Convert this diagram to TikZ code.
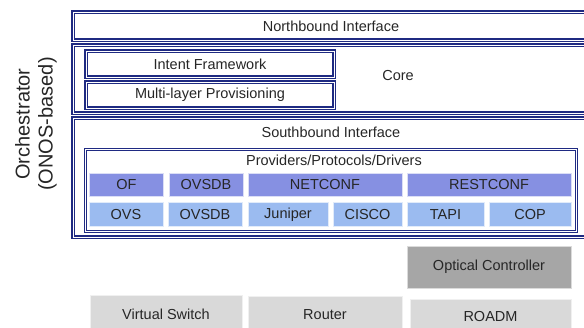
\documentclass[tikz,border=0pt]{standalone}
\usepackage{fontspec}
\setmainfont{Liberation Sans}
\definecolor{navy}{RGB}{31,42,130}
\definecolor{protoblue}{RGB}{134,144,226}
\definecolor{drvblue}{RGB}{155,187,240}
\definecolor{devgray}{RGB}{217,217,217}
\definecolor{ctrlgray}{RGB}{166,166,166}
\begin{document}
\begin{tikzpicture}[x=1pt, y=-1pt, font=\fontsize{14.5}{17}\selectfont, text=black!85,
    layer/.style = {draw=navy, double=white, double distance=0.6pt, line width=1.25pt, inner sep=0pt},
    proto/.style = {fill=protoblue, draw=white!70!protoblue, line width=0.6pt, minimum height=23pt, inner sep=0pt},
    driver/.style = {fill=drvblue, draw=white!70!drvblue, line width=0.6pt, minimum height=24pt, inner sep=0pt},
    device/.style = {fill=devgray, draw=white!60!devgray, line width=0.6pt, inner sep=0pt}]
  \useasboundingbox (0,0) rectangle (584,327);
  \clip (0,0) rectangle (584,327);
  % orchestrator layers
  \node[layer, minimum width=516pt, minimum height=28pt] (north) at (331,26) {Northbound Interface};
  \node[layer, minimum width=516pt, minimum height=68pt] (core) at (331,79) {};
  \node (coretext) at (398,76) {Core};
  \node[layer, minimum width=248pt, minimum height=26pt] (intent) at (210,64) {Intent Framework};
  \node[layer, minimum width=248pt, minimum height=26pt] (multi) at (210,95) {Multi-layer Provisioning};
  \node[layer, minimum width=516pt, minimum height=119pt] (south) at (331,177.5) {};
  \node (southtext) at (331,132) {Southbound Interface};
  \node[layer, minimum width=491pt, minimum height=82pt] (prov) at (331,190.5) {};
  \node (provtext) at (334,160) {Providers/Protocols/Drivers};
  \node[rotate=90, align=center, font=\fontsize{20}{23}\selectfont] (orch) at (36,124) {Orchestrator\\(ONOS-based)};
  % protocols
  \node[proto, minimum width=74pt] (of) at (126.5,185) {OF};
  \node[proto, minimum width=74pt] (ovsdbp) at (206,185) {OVSDB};
  \node[proto, minimum width=154pt] (netconf) at (325,185) {NETCONF};
  \node[proto, minimum width=164pt] (restconf) at (489,185) {RESTCONF};
  % drivers
  \node[driver, minimum width=74pt] (ovs) at (126,214.5) {OVS};
  \node[driver, minimum width=74pt] (ovsdbd) at (205,214.5) {OVSDB};
  \node[driver, minimum width=80pt] (juniper) at (288,214.5) {Juniper};
  \node[driver, minimum width=69pt] (cisco) at (367.5,214.5) {CISCO};
  \node[driver, minimum width=77pt] (tapi) at (445.5,214.5) {TAPI};
  \node[driver, minimum width=82pt] (cop) at (530,214.5) {COP};
  % devices
  \node[device, fill=ctrlgray, draw=white!60!ctrlgray, minimum width=164pt, minimum height=42pt] (optical) at (489,267) {Optical Controller};
  \node[device, minimum width=152pt, minimum height=38pt] (vswitch) at (166,314) {Virtual Switch};
  \node[device, minimum width=154pt, minimum height=38pt] (router) at (325,315) {Router};
  \node[device, minimum width=161pt, minimum height=36pt] (roadm) at (490.5,317) {ROADM};
\end{tikzpicture}
\end{document}
